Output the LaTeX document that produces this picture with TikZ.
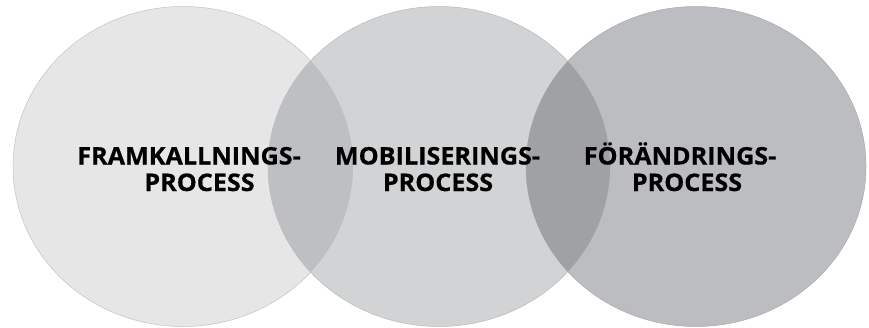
\documentclass[tikz,border=0pt]{standalone}
\usepackage{fontspec}
\setmainfont{Open Sans}[BoldFeatures={FakeBold=0.6}]
\definecolor{cA}{HTML}{E6E6E7}
\definecolor{cB}{HTML}{D2D3D5}
\definecolor{cC}{HTML}{BCBDC0}
\definecolor{cAB}{HTML}{BEBFC2}
\definecolor{cBC}{HTML}{9FA1A4}
\newcommand{\wide}[1]{\scalebox{1.04}[1]{#1}}
\tikzset{
  lbl/.style={font=\bfseries\fontsize{24.2}{26}\selectfont, text=black, inner sep=0pt, anchor=base},
}
\begin{document}
\begin{tikzpicture}[x=1pt,y=-1pt]
\fill[white] (0,0) rectangle (869,327);
\useasboundingbox (0,0) rectangle (869,327);
\def\ca{(183,166.5) ellipse [x radius=170, y radius=160]}
\def\cb{(439,166.5) ellipse [x radius=171, y radius=160]}
\def\cc{(696,166.5) ellipse [x radius=170, y radius=160]}
\fill[cA, draw=cA!85!black, line width=0.5pt] \ca;
\fill[cB, draw=cB!88!black, line width=0.5pt] \cb;
\fill[cC, draw=cC!90!black, line width=0.5pt] \cc;
\begin{scope}
  \clip \ca;
  \fill[cAB] \cb;
\end{scope}
\begin{scope}
  \clip \cb;
  \fill[cBC] \cc;
\end{scope}
\node[lbl] (a1) at (189,164.5) {\wide{FRAMKALLNINGS-}};
\node[lbl] (a2) at (199.5,191) {\wide{PROCESS}};
\node[lbl] (b1) at (437.5,164.5) {\wide{MOBILISERINGS-}};
\node[lbl] (b2) at (438,191) {\wide{PROCESS}};
\node[lbl] (c1) at (680,164.5) {\wide{FÖRÄNDRINGS-}};
\node[lbl] (c2) at (687,191) {\wide{PROCESS}};
\end{tikzpicture}
\end{document}
